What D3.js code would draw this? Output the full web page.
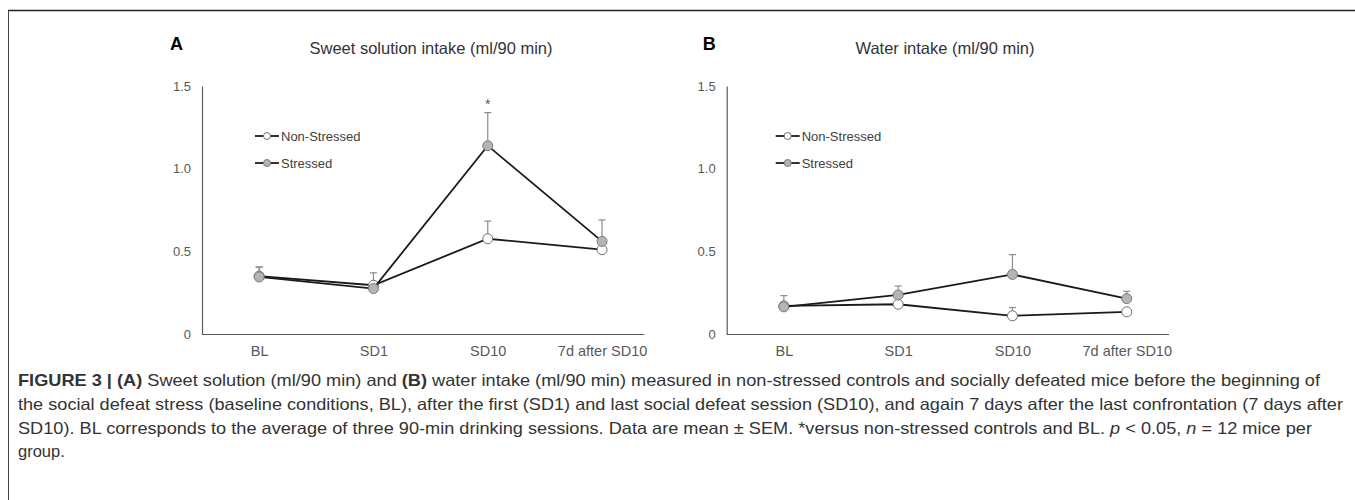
<!DOCTYPE html>
<html>
<head>
<meta charset="utf-8">
<script src="https://cdn.jsdelivr.net/npm/d3@7"></script>
<style>
  html, body { margin: 0; padding: 0; background: #fff; }
  svg { display: block; }
</style>
</head>
<body>
<svg id="chart" width="1355" height="500"></svg>
<script>
// ---- data ----
const categories = ["BL", "SD1", "SD10", "7d after SD10"];
const seriesNames = ["Non-Stressed", "Stressed"];
const yTicks = [0, 0.5, 1.0, 1.5];

// Panel A: sweet solution intake
const sweetNonStressed = [0.35, 0.295, 0.576, 0.51];
const sweetNonStressedErr = [0.055, 0.075, 0.107, 0.0];
const sweetStressed = [0.345, 0.275, 1.139, 0.56];
const sweetStressedErr = [0.06, 0.0, 0.2, 0.13];

// Panel B: water intake
const waterNonStressed = [0.17, 0.18, 0.11, 0.134];
const waterNonStressedErr = [0.0, 0.0, 0.05, 0.0];
const waterStressed = [0.164, 0.236, 0.36, 0.214];
const waterStressedErr = [0.068, 0.054, 0.12, 0.044];

const panelLabels = ["A", "B"];
const panelTitles = ["Sweet solution intake (ml/90 min)", "Water intake (ml/90 min)"];
const starMarks = [[null, null, "*", null], [null, null, null, null]];

const captionLines = [
  [{t: "FIGURE 3 | (A)", b: true}, {t: " Sweet solution (ml/90 min) and "}, {t: "(B)", b: true}, {t: " water intake (ml/90 min) measured in non-stressed controls and socially defeated mice before the beginning of"}],
  [{t: "the social defeat stress (baseline conditions, BL), after the first (SD1) and last social defeat session (SD10), and again 7 days after the last confrontation (7 days after"}],
  [{t: "SD10). BL corresponds to the average of three 90-min drinking sessions. Data are mean \u00B1 SEM. *versus non-stressed controls and BL. "}, {t: "p", i: true}, {t: " < 0.05, "}, {t: "n", i: true}, {t: " = 12 mice per"}],
  [{t: "group."}]
];

const panels = [
  {ns: sweetNonStressed, nsErr: sweetNonStressedErr, s: sweetStressed, sErr: sweetStressedErr},
  {ns: waterNonStressed, nsErr: waterNonStressedErr, s: waterStressed, sErr: waterStressedErr}
];

// ---- drawing ----
const svg = d3.select("#chart");
const FONT = "'Liberation Sans', Arial, sans-serif";

// frame
svg.append("line").attr("x1", 8).attr("x2", 1355).attr("y1", 10.5).attr("y2", 10.5)
  .attr("stroke", "#222").attr("stroke-width", 1.5);
svg.append("line").attr("x1", 8.5).attr("x2", 8.5).attr("y1", 10).attr("y2", 500)
  .attr("stroke", "#444").attr("stroke-width", 1);

const axisX0 = [202, 726.7];
const letterOffset = [-32, -24];
const titleCenter = [431, 945];
const step = 114.3;
const yTop = 86, yBottom = 334;

panels.forEach((p, i) => {
  const x0 = axisX0[i];
  const g = svg.append("g");
  const x = d3.scalePoint().domain(categories).range([x0 + step / 2, x0 + step * 3.5]);
  const y = d3.scaleLinear().domain([0, 1.5]).range([yBottom, yTop]);

  // y axis
  const ya = g.append("g").attr("transform", `translate(${x0},0)`)
    .call(d3.axisLeft(y).tickValues(yTicks).tickSize(0).tickPadding(11)
      .tickFormat(d => d === 0 ? "0" : d3.format(".1f")(d)));
  ya.select(".domain").attr("stroke", "#595959").attr("stroke-width", 1.2);
  ya.selectAll("text").attr("font-family", FONT).attr("font-size", 13).attr("fill", "#595959");

  // x axis
  const xa = g.append("g").attr("transform", `translate(0,${yBottom})`)
    .call(d3.axisBottom(x).tickSize(0).tickPadding(12));
  xa.select(".domain").attr("d", `M${x0},0.5H${x0 + step * 3.87}`)
    .attr("stroke", "#595959").attr("stroke-width", 1.2);
  xa.selectAll("text").attr("font-family", FONT).attr("font-size", 14.5).attr("fill", "#595959");

  // panel letter and title
  g.append("text").attr("x", x0 + letterOffset[i]).attr("y", 50).text(panelLabels[i])
    .attr("font-family", FONT).attr("font-weight", "bold").attr("font-size", 18).attr("fill", "#000");
  g.append("text").attr("x", titleCenter[i]).attr("y", 54).attr("text-anchor", "middle")
    .text(panelTitles[i]).attr("font-family", FONT).attr("font-size", 16.5).attr("fill", "#333");

  const series = [
    {vals: p.ns, err: p.nsErr, fill: "#ffffff", stroke: "#6e6e6e"},
    {vals: p.s, err: p.sErr, fill: "#b4b4b4", stroke: "#7a7a7a"}
  ];
  const line = d3.line().x((d, k) => x(categories[k])).y(d => y(d));

  // error bars (plus direction)
  series.forEach(s => {
    s.vals.forEach((v, k) => {
      if (!s.err[k]) return;
      const cx = x(categories[k]);
      g.append("line").attr("x1", cx).attr("x2", cx).attr("y1", y(v)).attr("y2", y(v + s.err[k]))
        .attr("stroke", "#8c8c8c").attr("stroke-width", 1.2);
      g.append("line").attr("x1", cx - 3.5).attr("x2", cx + 3.5).attr("y1", y(v + s.err[k])).attr("y2", y(v + s.err[k]))
        .attr("stroke", "#8c8c8c").attr("stroke-width", 1.2);
    });
  });

  series.forEach(s => {
    g.append("path").datum(s.vals).attr("d", line).attr("fill", "none")
      .attr("stroke", "#1a1a1a").attr("stroke-width", 1.8);
    g.selectAll(null).data(s.vals).enter().append("circle")
      .attr("cx", (d, k) => x(categories[k])).attr("cy", d => y(d)).attr("r", 5)
      .attr("fill", s.fill).attr("stroke", s.stroke).attr("stroke-width", 1);
  });

  // significance marks
  starMarks[i].forEach((m, k) => {
    if (!m) return;
    const top = p.s[k] + p.sErr[k];
    g.append("text").attr("x", x(categories[k])).attr("y", y(top) - 4).attr("text-anchor", "middle")
      .text(m).attr("font-family", FONT).attr("font-size", 14).attr("fill", "#595959");
  });

  // legend
  const lx = x0 + (i === 0 ? 53 : 49);
  const legendY = [136, 163];
  series.forEach((s, k) => {
    g.append("line").attr("x1", lx).attr("x2", lx + 24).attr("y1", legendY[k]).attr("y2", legendY[k])
      .attr("stroke", "#1a1a1a").attr("stroke-width", 1.8);
    g.append("circle").attr("cx", lx + 12).attr("cy", legendY[k]).attr("r", 3.5)
      .attr("fill", s.fill).attr("stroke", s.stroke).attr("stroke-width", 1);
    g.append("text").attr("x", lx + 26).attr("y", legendY[k]).attr("dy", "0.35em")
      .text(seriesNames[k]).attr("font-family", FONT).attr("font-size", 13).attr("fill", "#404040");
  });
});

// caption
const cap = svg.append("g");
const baselines = [386, 410, 433.5, 457];
const lineEnds = [1320, 1343, 1312, null];
captionLines.forEach((parts, li) => {
  const t = cap.append("text").attr("x", 18).attr("y", baselines[li])
    .attr("font-family", FONT).attr("font-size", 16.5).attr("fill", "#333");
  if (lineEnds[li]) t.attr("textLength", lineEnds[li] - 18).attr("lengthAdjust", "spacingAndGlyphs");
  parts.forEach(pt => {
    t.append("tspan").text(pt.t)
      .attr("font-weight", pt.b ? "bold" : null)
      .attr("font-style", pt.i ? "italic" : null);
  });
});
</script>
</body>
</html>
